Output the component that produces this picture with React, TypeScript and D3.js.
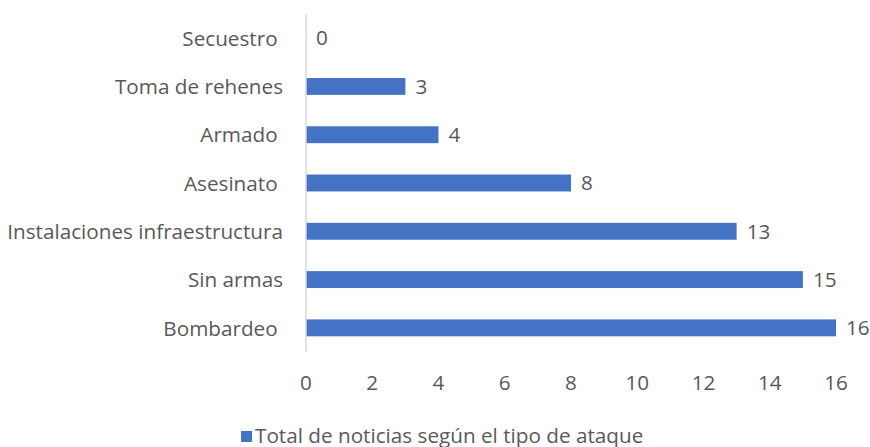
import React, { useEffect, useRef } from "react";
import * as d3 from "d3";

const categories = [
  "Secuestro ",
  "Toma de rehenes",
  "Armado ",
  "Asesinato ",
  "Instalaciones infraestructura",
  "Sin armas",
  "Bombardeo ",
];
const values = [0, 3, 4, 8, 13, 15, 16];
const xTicks = [0, 2, 4, 6, 8, 10, 12, 14, 16];
const seriesName = "Total de noticias según el tipo de ataque";

const W = 870;
const H = 447;
const FONT = "'Open Sans', Lato, sans-serif";
const FS = 20.7;
const TEXT = "#595959";
const BAR = "#4472C4";

export default function App() {
  const ref = useRef<SVGSVGElement>(null);
  useEffect(() => {
    const svg = d3.select(ref.current);
    svg.selectAll("*").remove();
    const x = d3.scaleLinear().domain([0, 16]).range([306, 836]);
    const y = d3.scaleBand().domain(categories).range([14, 352]).paddingInner(0.65).paddingOuter(0.325);

    svg.append("g").selectAll("rect").data(values).join("rect")
      .attr("x", x(0))
      .attr("y", (_d, i) => y(categories[i])!)
      .attr("width", (d) => x(d) - x(0))
      .attr("height", y.bandwidth())
      .attr("fill", BAR);

    svg.append("line").attr("x1", x(0)).attr("x2", x(0)).attr("y1", 14).attr("y2", 352)
      .attr("stroke", "#D9D9D9").attr("stroke-width", 1.5);

    svg.append("g").selectAll("text").data(categories).join("text")
      .attr("x", 283)
      .attr("y", (d) => y(d)! + y.bandwidth() / 2 + 0.5)
      .attr("dy", "0.35em")
      .attr("text-anchor", "end")
      .style("white-space", "pre")
      .attr("font-family", FONT).attr("font-size", FS).attr("fill", TEXT)
      .text((d) => d);

    svg.append("g").selectAll("text").data(values).join("text")
      .attr("x", (d) => x(d) + 10)
      .attr("y", (_d, i) => y(categories[i])! + y.bandwidth() / 2)
      .attr("dy", "0.35em")
      .attr("font-family", FONT).attr("font-size", FS).attr("fill", TEXT)
      .text((d) => String(d));

    svg.append("g").selectAll("text").data(xTicks).join("text")
      .attr("x", (d) => x(d))
      .attr("y", 383)
      .attr("dy", "0.35em")
      .attr("text-anchor", "middle")
      .attr("font-family", FONT).attr("font-size", FS).attr("fill", TEXT)
      .text((d) => String(d));

    const lg = svg.append("g");
    lg.append("rect").attr("x", 241).attr("y", 431).attr("width", 11).attr("height", 11).attr("fill", BAR);
    lg.append("text")
      .attr("x", 255).attr("y", 443)
      .attr("font-family", FONT).attr("font-size", FS).attr("fill", TEXT)
      .text(seriesName);
  }, []);
  return (
    <svg ref={ref} width={W} height={H} style={{ position: "absolute", left: 0, top: 0, background: "#fff" }} />
  );
}
